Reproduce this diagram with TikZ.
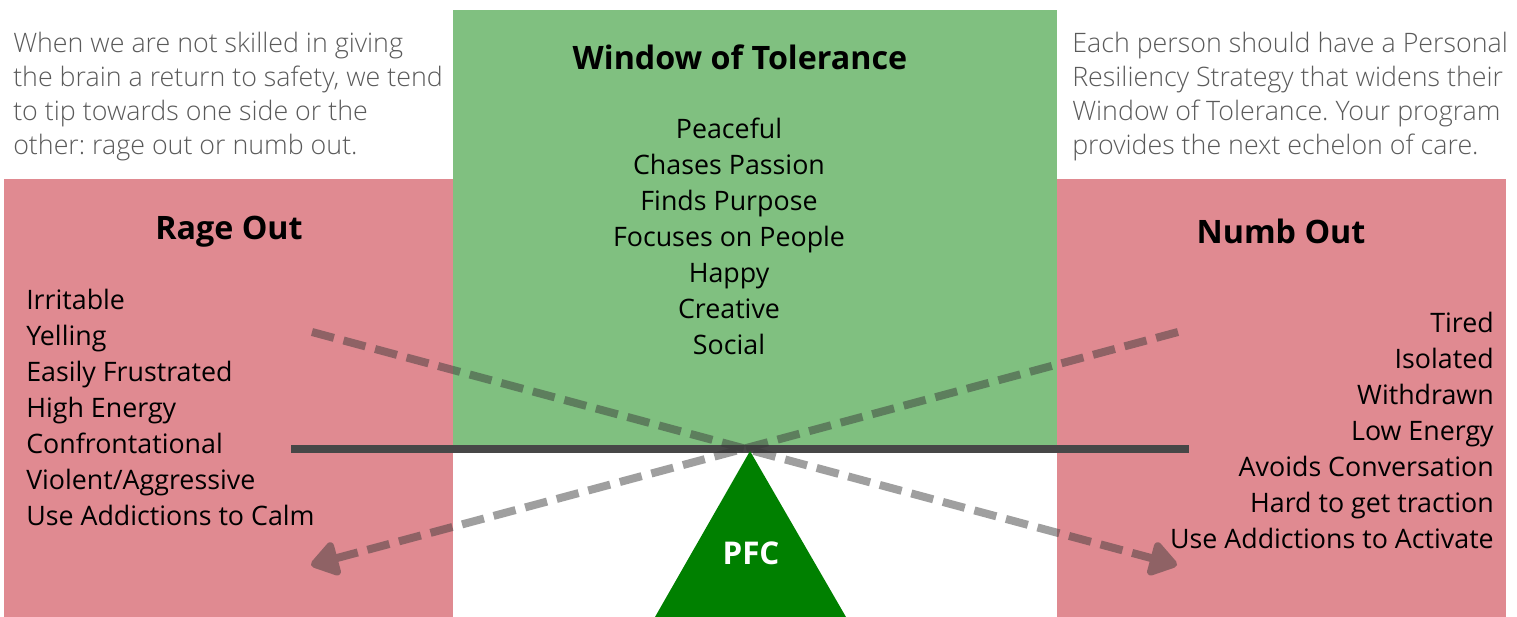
\documentclass[tikz,border=0pt]{standalone}
\usepackage{fontspec}
\setmainfont{Open Sans}
\newfontfamily\lightfont{Open Sans Light}
\usetikzlibrary{arrows.meta}
\frenchspacing
\definecolor{wotgreen}{HTML}{80C080}
\definecolor{outpink}{HTML}{E08A91}
\definecolor{pfcgreen}{HTML}{008000}
\definecolor{beamgray}{HTML}{474747}
\definecolor{notegray}{HTML}{5A5A5A}
\definecolor{tipgray}{HTML}{373737}
\begin{document}
\begin{tikzpicture}[x=0.75pt,y=-0.75pt,
  note/.style={inner sep=0pt, align=left, text=notegray,
    font=\lightfont\fontsize{20.1}{25.5}\selectfont},
  heading/.style={inner sep=0pt, font=\bfseries\fontsize{24.2}{28}\selectfont},
  listing/.style={inner sep=0pt, font=\fontsize{20.1}{27}\selectfont},
  tipline/.style={line width=6pt, dash pattern=on 17pt off 7.5pt,
    -{Triangle[length=23pt,width=29pt,round]}}]
\useasboundingbox (0,0) rectangle (1517,617);
% zones
\fill[wotgreen] (453,10) rectangle (1057,449);
\fill[outpink] (4,179) rectangle (453,617);
\fill[outpink] (1057,179) rectangle (1506,617);
% side notes
\node[note, anchor=north west] (leftnote) at (13,32)
  {When we are not skilled in giving\\the brain a return to safety, we tend\\to tip towards one side or the\\other: rage out or numb out.};
\node[note, anchor=north west] (rightnote) at (1072,32)
  {Each person should have a Personal\\Resiliency Strategy that widens their\\Window of Tolerance. Your program\\provides the next echelon of care.};
% headings
\node[heading] (wot) at (740,57) {Window of Tolerance};
\node[heading] (rage) at (229,232) {Rage Out};
\node[heading] (numb) at (1281,231) {Numb Out};
% lists
\node[listing, align=center, anchor=north] (wotlist) at (729,118)
  {Peaceful\\Chases Passion\\Finds Purpose\\Focuses on People\\Happy\\Creative\\Social};
\node[listing, align=left, anchor=north west] (ragelist) at (26,289)
  {Irritable\\Yelling\\Easily Frustrated\\High Energy\\Confrontational\\Violent/Aggressive\\Use Addictions to Calm};
\node[listing, align=right, anchor=north east] (numblist) at (1494,312)
  {Tired\\Isolated\\Withdrawn\\Low Energy\\Avoids Conversation\\Hard to get traction\\Use Addictions to Activate};
% beam and fulcrum
\coordinate (beamL) at (291,449);
\coordinate (beamR) at (1189,449);
\draw[beamgray, line width=5.5pt] (beamL) -- (beamR);
\fill[pfcgreen] (750,451) -- (846,617) -- (655,617) -- cycle;
\node[inner sep=0pt, text=white, font=\bfseries\fontsize{23.5}{28}\selectfont] (pfc) at (751,553) {PFC};
% tipping paths
\coordinate (ulstart) at (312,332);
\coordinate (urstart) at (1178,332);
\coordinate (lrtip) at (1177,565);
\coordinate (lltip) at (311,565);
\begin{scope}[transparency group, opacity=0.48]
  \draw[tipgray, tipline] (ulstart) -- (lrtip);
  \draw[tipgray, tipline] (urstart) -- (lltip);
\end{scope}
\end{tikzpicture}
\end{document}
